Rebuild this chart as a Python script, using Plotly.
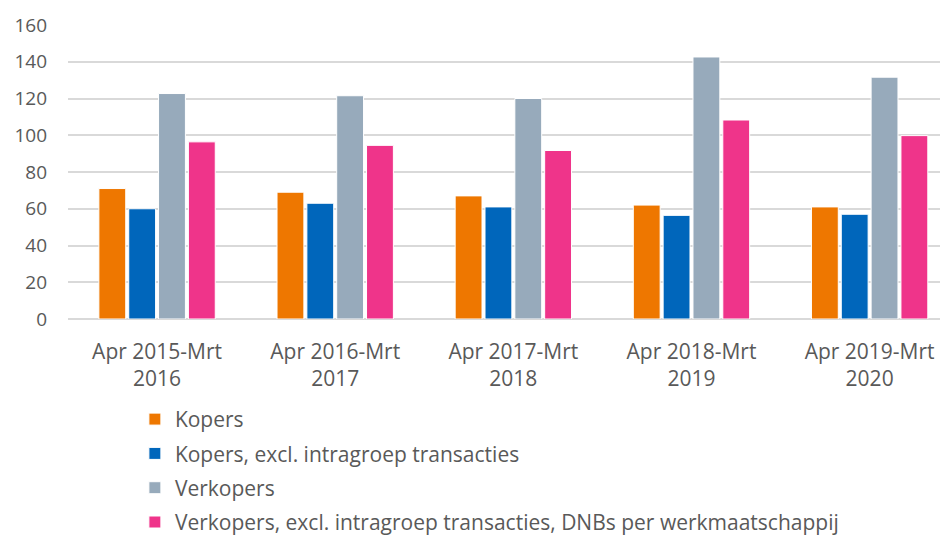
import plotly.graph_objects as go

categories = ["Apr 2015-Mrt<br>2016", "Apr 2016-Mrt<br>2017", "Apr 2017-Mrt<br>2018",
              "Apr 2018-Mrt<br>2019", "Apr 2019-Mrt<br>2020"]
kopers = [71, 69, 67, 62, 61]
kopers_excl = [60, 63, 61, 56.4, 57]
verkopers = [122.7, 121.5, 120, 142.6, 131.6]
verkopers_excl = [96.4, 94.5, 91.7, 108.3, 99.8]

series = [
    ("Kopers", kopers, "#EE7700"),
    ("Kopers, excl. intragroep transacties", kopers_excl, "#0066BB"),
    ("Verkopers", verkopers, "#97AABB"),
    ("Verkopers, excl. intragroep transacties, DNBs per werkmaatschappij", verkopers_excl, "#EF348A"),
]

fig = go.Figure()
for i, (name, vals, col) in enumerate(series):
    fig.add_trace(go.Bar(
        x=list(range(len(categories))), y=vals, name=name, legendgroup=f"g{i}",
        marker=dict(color=col, line=dict(color="white", width=1)),
    ))

font = "'Open Sans', Lato, sans-serif"
fig.update_layout(
    width=940, height=533,
    margin=dict(l=60, r=0, t=17, b=222),
    paper_bgcolor="white", plot_bgcolor="white",
    barmode="group", bargap=0.33, bargroupgap=0.1,
    font=dict(family=font, color="#595959", size=19),
    showlegend=True,
    legend=dict(orientation="v", x=0.076, xref="paper", y=0.2665, yref="container",
                xanchor="left", yanchor="top",
                font=dict(size=21, color="#595959"), tracegroupgap=4,
                itemwidth=30, traceorder="grouped"),
    xaxis=dict(tickmode="array", tickvals=list(range(len(categories))), ticktext=categories,
               range=[-0.5, 4.44], showgrid=False, zeroline=False, showline=False,
               ticks="", ticklabelstandoff=18, tickfont=dict(size=21)),
    yaxis=dict(range=[0, 160], dtick=20, showgrid=True, gridcolor="#d9d9d9", gridwidth=1.5,
               zeroline=True, zerolinecolor="#d9d9d9", zerolinewidth=1.5,
               showline=False, ticks="", ticklabelstandoff=20, tickfont=dict(size=19)),
)

fig.write_html("out.html")
